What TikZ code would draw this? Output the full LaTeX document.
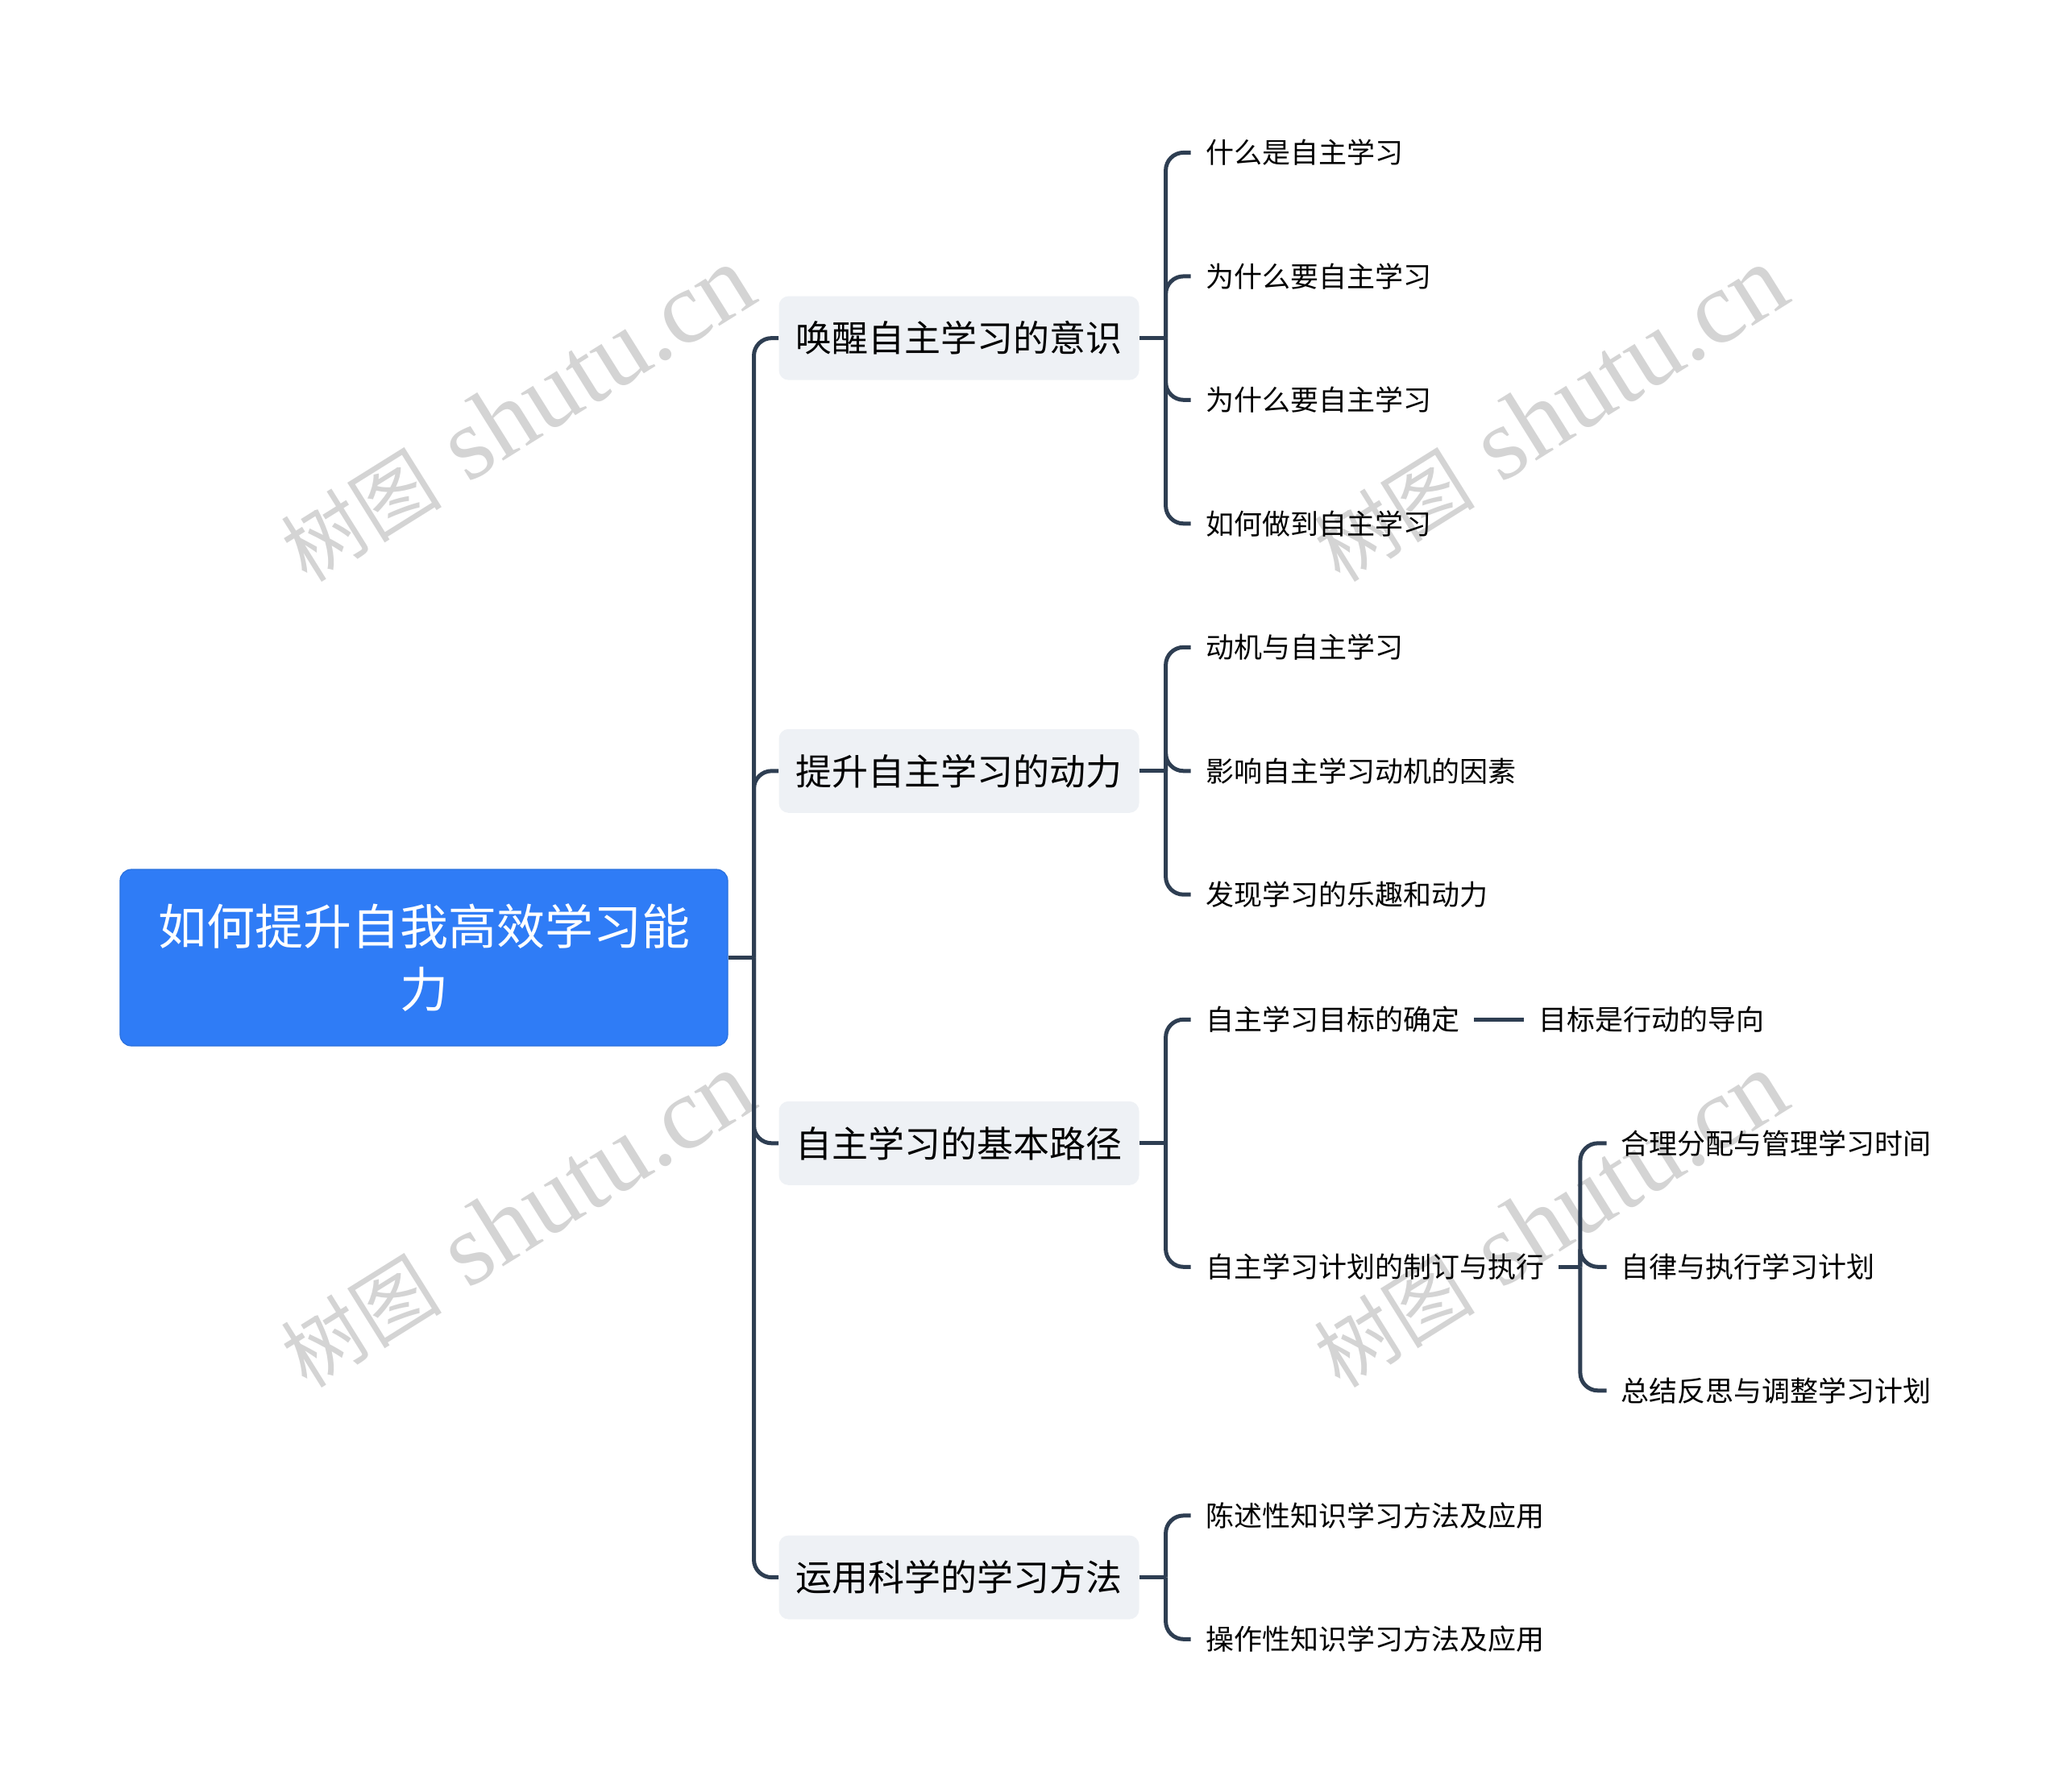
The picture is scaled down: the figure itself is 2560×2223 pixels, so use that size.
\documentclass[tikz,border=0pt]{standalone}
\usepackage{fontspec}
\setmainfont{Noto Sans CJK SC}
\newfontfamily\wmlatin{Liberation Serif}
\newfontfamily\wmcjk{Noto Sans CJK SC}
\definecolor{linec}{HTML}{2E3E52}
\definecolor{rootc}{HTML}{2F7CF6}
\definecolor{lonec}{HTML}{EEF1F5}
\definecolor{wmc}{HTML}{D4D4D4}
\tikzset{
  rootbox/.style={fill=rootc, draw=rootc!90!black, line width=0.6pt, rounded corners=7pt, text=white,
    font=\fontsize{30}{39}\selectfont, minimum width=377pt, minimum height=109.5pt, align=center, inner sep=0pt},
  lonebox/.style={fill=lonec, rounded corners=6pt, text=black, font=\fontsize{22.5}{27}\selectfont,
    minimum width=223.5pt, minimum height=52pt, inner sep=0pt},
  leaf/.style={font=\fontsize{17.5}{21}\selectfont, anchor=west, inner xsep=9pt, inner ysep=0pt, text=black},
  conn/.style={draw=linec, line width=2.5pt, rounded corners=11pt},
  wm/.style={text=wmc, rotate=32, inner sep=0pt}
}
\begin{document}
\begin{tikzpicture}[x=0.5pt, y=-0.5pt]
\useasboundingbox (0,0) rectangle (2560,2223);
% watermarks
\foreach \wx/\wy in {642/514, 1924/514, 642/1514, 1924/1514}
  \node[wm] at (\wx,\wy) {{\wmcjk\fontsize{50}{50}\selectfont 树图}\hspace{17pt}{\wmlatin\fontsize{64}{64}\selectfont shutu.cn}};
% root and level 1
\node[rootbox] (root) at (526,1188.5) {如何提升自我高效学习能\\力};
\node[lonebox] (a) at (1190,419.6) {唤醒自主学习的意识};
\node[lonebox] (b) at (1190,956.8) {提升自主学习的动力};
\node[lonebox] (c) at (1190,1418.8) {自主学习的基本路径};
\node[lonebox] (d) at (1190,1957.6) {运用科学的学习方法};
% leaves
\node[leaf] (a1) at (1477.6,189.4) {什么是自主学习};
\node[leaf] (a2) at (1477.6,342.9) {为什么要自主学习};
\node[leaf] (a3) at (1477.6,496.3) {为什么要自主学习};
\node[leaf] (a4) at (1477.6,649.8) {如何做到自主学习};
\node[leaf] (b1) at (1477.6,803.3) {动机与自主学习};
\node[leaf] (b2) at (1477.6,956.8) {影响自主学习动机的因素};
\node[leaf] (b3) at (1477.6,1110.2) {发现学习的乐趣和动力};
\node[leaf] (c1) at (1477.6,1265.3) {自主学习目标的确定};
\node[leaf] (c2) at (1477.6,1572.3) {自主学习计划的制订与执行};
\node[leaf] (d1) at (1477.6,1880.9) {陈述性知识学习方法及应用};
\node[leaf] (d2) at (1477.6,2034.3) {操作性知识学习方法及应用};
\node[leaf] (c1a) at (1890.7,1265.3) {目标是行动的导向};
\node[leaf] (c2a) at (1993.5,1418.8) {合理分配与管理学习时间};
\node[leaf] (c2b) at (1993.5,1572.3) {自律与执行学习计划};
\node[leaf] (c2c) at (1993.5,1725.8) {总结反思与调整学习计划};
% junctions
\coordinate (rj) at (935.5,1188.5);
\coordinate (aj) at (1446.6,419.6);
\coordinate (bj) at (1446.6,956.8);
\coordinate (cj) at (1446.6,1418.8);
\coordinate (dj) at (1446.6,1957.6);
\coordinate (c2j) at (1960.9,1572.3);
% connectors
\draw[conn] (root.east) -- (rj);
\foreach \n in {a,b,c,d} \draw[conn] (rj) |- (\n.west);
\draw[conn] (a.east) -- (aj);
\foreach \n in {a1,a2,a3,a4} \draw[conn] (aj) |- (\n.west);
\draw[conn] (b.east) -- (bj);
\foreach \n in {b1,b2,b3} \draw[conn] (bj) |- (\n.west);
\draw[conn] (c.east) -- (cj);
\foreach \n in {c1,c2} \draw[conn] (cj) |- (\n.west);
\draw[conn] (d.east) -- (dj);
\foreach \n in {d1,d2} \draw[conn] (dj) |- (\n.west);
\draw[conn] (c1.east) -- (c1a.west);
\draw[conn] (c2.east) -- (c2j);
\foreach \n in {c2a,c2b,c2c} \draw[conn] (c2j) |- (\n.west);
\end{tikzpicture}
\end{document}
